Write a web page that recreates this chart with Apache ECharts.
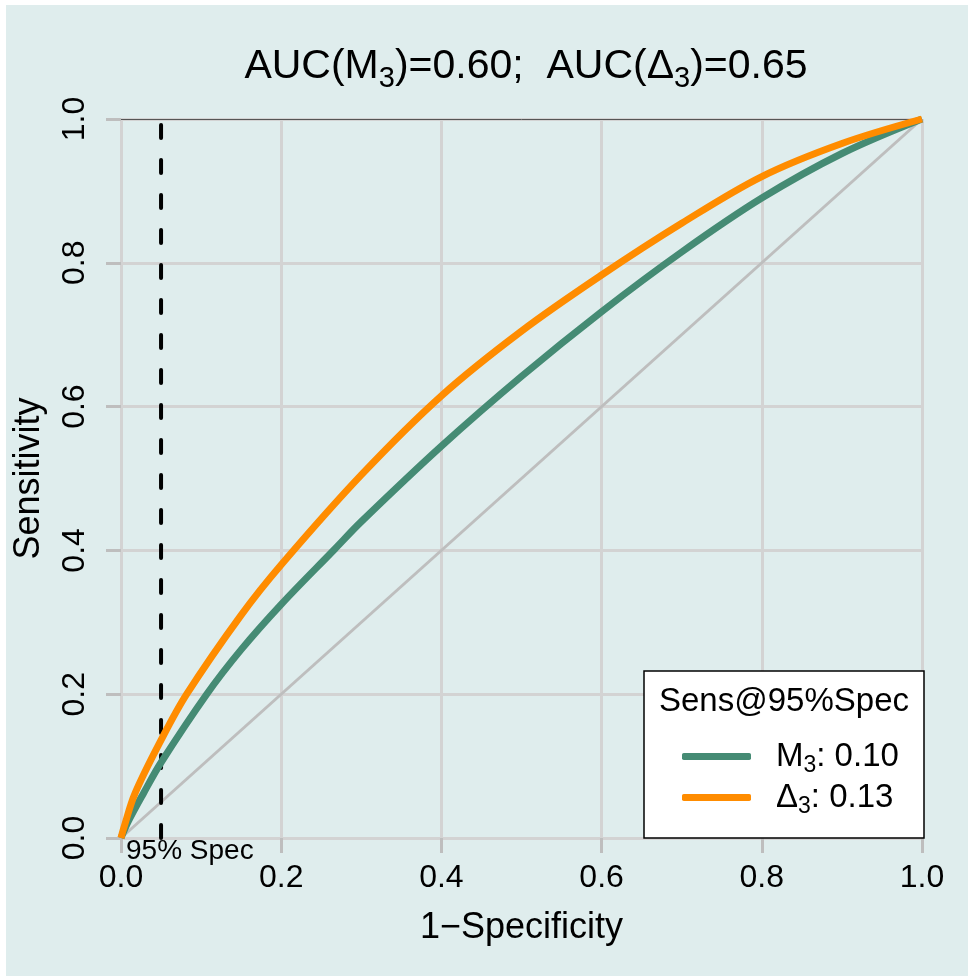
<!DOCTYPE html>
<html>
<head>
<meta charset="utf-8">
<script src="https://cdn.jsdelivr.net/npm/echarts@6/dist/echarts.min.js"></script>
<style>
  html, body { margin: 0; padding: 0; background: #fff; }
  #chart { width: 968px; height: 976px; }
</style>
</head>
<body>
<div id="chart"></div>
<script>
// ROC curves
const fprM3 = [0, 0.01, 0.028, 0.05, 0.107, 0.15, 0.2, 0.267, 0.3, 0.4, 0.5, 0.6, 0.7, 0.8, 0.9, 1];
const sensM3 = [0, 0.025, 0.062, 0.105, 0.2, 0.262, 0.325, 0.402, 0.44, 0.545, 0.642, 0.732, 0.815, 0.89, 0.952, 1];
const fprD3 = [0, 0.004, 0.0175, 0.05, 0.082, 0.15, 0.2, 0.3, 0.4, 0.5, 0.6, 0.7, 0.8, 0.9, 1];
const sensD3 = [0, 0.016, 0.062, 0.136, 0.2, 0.31, 0.38, 0.505, 0.615, 0.705, 0.783, 0.855, 0.92, 0.966, 1];
const chanceX = [0, 1];
const chanceY = [0, 1];
const specCut = 0.05;           // 1 - 0.95 specificity
const seriesNames = ['M3', 'Δ3'];
const seriesBase = ['M', 'Δ'];
const sensAt95 = ['0.10', '0.13'];
const aucs = ['0.60', '0.65'];

const FONT = '"Liberation Sans", Arial, sans-serif';
const zip = (xs, ys) => xs.map((x, i) => [x, ys[i]]);

const chart = echarts.init(document.getElementById('chart'), null, {renderer: 'canvas'});

const axisCommon = {
  type: 'value', min: 0, max: 1, interval: 0.2,
  axisLine: {show: false},
  axisTick: {show: true, length: 15, lineStyle: {color: '#bebebe', width: 3}},
  splitLine: {show: true, lineStyle: {color: '#d3d3d3', width: 3}},
  axisLabel: {color: '#000', fontFamily: FONT, fontSize: 32, formatter: v => v.toFixed(1)},
  nameLocation: 'middle',
  nameTextStyle: {color: '#000', fontFamily: FONT, fontSize: 36}
};

chart.setOption({
  animation: false,
  backgroundColor: '#fff',
  textStyle: {fontFamily: FONT},
  title: {
    left: 521, top: 35, textAlign: 'center',
    text: `{n|AUC(${seriesBase[0]}}{s|3}{n|)=${aucs[0]};  AUC(${seriesBase[1]}}{s|3}{n|)=${aucs[1]}}`,
    textStyle: {
      fontWeight: 'normal',
      rich: {
        n: {fontFamily: FONT, fontSize: 41, fontWeight: 'normal', color: '#000'},
        s: {fontFamily: FONT, fontSize: 29, fontWeight: 'normal', color: '#000', padding: [24, 0, 0, 0]}
      }
    }
  },
  grid: {left: 121, right: 46, top: 119, bottom: 138, containLabel: false},
  xAxis: [
    Object.assign({}, axisCommon, {
      name: '1−Specificity', nameGap: 72,
      axisLabel: Object.assign({}, axisCommon.axisLabel, {margin: 24})
    }),
    {
      type: 'value', min: 0, max: 1, position: 'top',
      axisLine: {show: true, lineStyle: {color: '#555', width: 1}},
      axisTick: {show: false}, axisLabel: {show: false}, splitLine: {show: false}
    }
  ],
  yAxis: Object.assign({}, axisCommon, {
    name: 'Sensitivity', nameGap: 74,
    axisLabel: Object.assign({}, axisCommon.axisLabel, {rotate: 90, margin: 30})
  }),
  legend: {
    data: seriesNames,
    orient: 'vertical',
    left: 677, top: 735,
    itemWidth: 69, itemHeight: 7, itemGap: 4,
    icon: 'roundRect',
    selectedMode: false,
    z: 20,
    formatter: name => {
      const i = seriesNames.indexOf(name);
      return `{n|${seriesBase[i]}}{s|3}{n|: ${sensAt95[i]}}`;
    },
    textStyle: {
      padding: [0, 0, 0, 20],
      rich: {
        n: {fontFamily: FONT, fontSize: 33, color: '#000'},
        s: {fontFamily: FONT, fontSize: 23, color: '#000', padding: [18, 0, 0, 0]}
      }
    }
  },
  graphic: [
    {type: 'rect', z: -100, shape: {x: 6, y: 5, width: 962, height: 971}, style: {fill: '#dfeded'}, silent: true},
    {type: 'rect', z: 10, shape: {x: 644, y: 671, width: 280, height: 167}, style: {fill: '#fff', stroke: '#000', lineWidth: 1.5}, silent: true},
    {type: 'text', z: 20, x: 784, y: 702, style: {text: 'Sens@95%Spec', fontFamily: FONT, fontSize: 33, fill: '#000', align: 'center', verticalAlign: 'middle'}},
    {type: 'text', z: 20, x: 126, y: 837, style: {text: '95% Spec', fontFamily: FONT, fontSize: 28, fill: '#000', align: 'left', verticalAlign: 'top'}}
  ],
  series: [
    {
      name: 'chance', type: 'line', data: zip(chanceX, chanceY), symbol: 'none',
      lineStyle: {color: '#bebebe', width: 3}, silent: true, z: 2
    },
    {
      name: 'cutoff', type: 'line', data: [[specCut, 0], [specCut, 1]], symbol: 'none',
      lineStyle: {color: '#000', width: 4, type: [13, 22], cap: 'round'}, silent: true, z: 3
    },
    {
      name: seriesNames[0], type: 'line', data: zip(fprM3, sensM3), symbol: 'none',
      smooth: 0.35,
      lineStyle: {color: '#458b74', width: 7}, itemStyle: {color: '#458b74'}, z: 4
    },
    {
      name: seriesNames[1], type: 'line', data: zip(fprD3, sensD3), symbol: 'none',
      smooth: 0.35,
      lineStyle: {color: '#ff8c00', width: 7}, itemStyle: {color: '#ff8c00'}, z: 5
    }
  ]
});
</script>
</body>
</html>
